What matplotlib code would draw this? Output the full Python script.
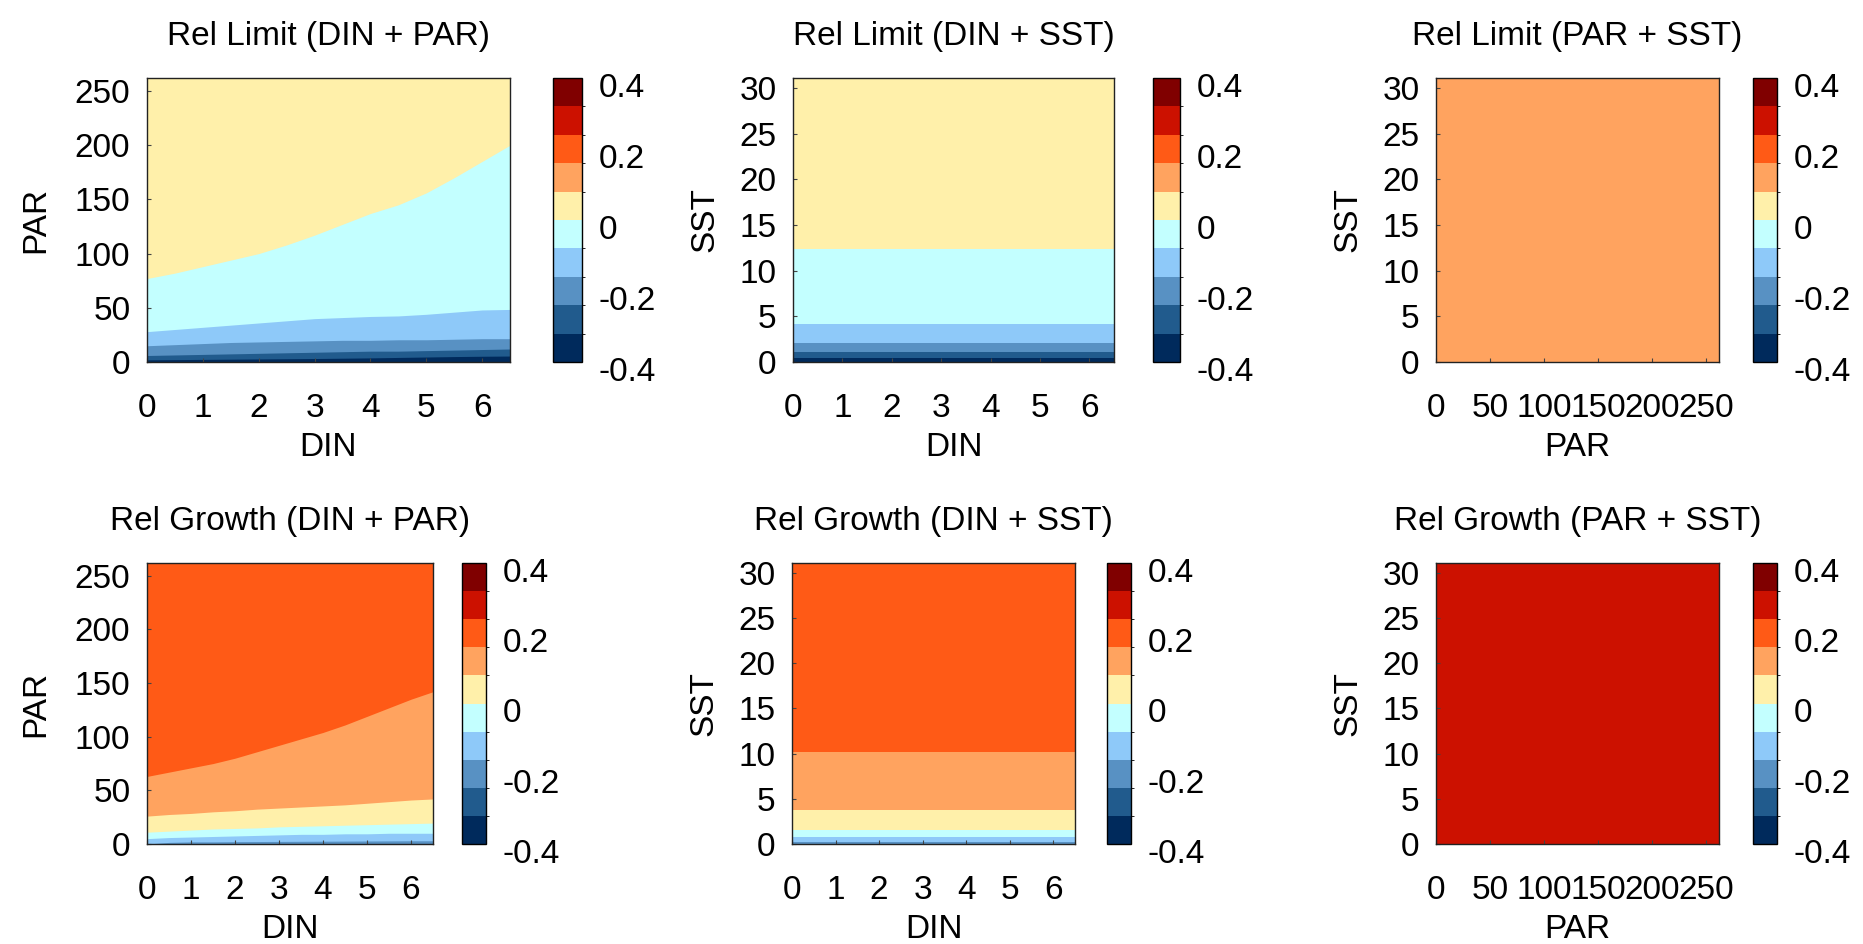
import numpy as np
import matplotlib
matplotlib.use("Agg")
import matplotlib.pyplot as plt
import matplotlib.transforms as mtransforms
from matplotlib.colors import ListedColormap, BoundaryNorm
from matplotlib.colorbar import ColorbarBase

plt.rcParams['font.family'] = ['Liberation Sans', 'DejaVu Sans']

# ---------------- DATA ----------------
levels = [-0.4, -0.32, -0.24, -0.16, -0.08, 0.0, 0.08, 0.16, 0.24, 0.32, 0.4]
band_colors = ["#002a5c", "#215b8d", "#5891c3", "#8ec9f9", "#c3ffff",
               "#fff0aa", "#ffa35f", "#ff5a16", "#cc1100", "#800000"]
cbar_ticks = [-0.4, -0.2, 0, 0.2, 0.4]
cbar_labels = ["-0.4", "-0.2", "0", "0.2", "0.4"]

din_range = [0, 6.5]
par_range = [0, 262]
sst_range = [0, 31.1]

din = [0, 0.5, 1, 1.5, 2, 2.5, 3, 3.5, 4, 4.5, 5, 5.5, 6, 6.5]

# Rel Limit (DIN + PAR): PAR at each band boundary, bottom to top
lim_dp_bounds = [
    [2, 2.2, 2.4, 2.6, 2.8, 3, 3.2, 3.5, 3.8, 4.2, 4.6, 5, 5.3, 5.5],
    [6, 6.5, 7, 7.5, 8, 8.5, 9, 9.5, 10, 10, 10.5, 11, 11.5, 12],
    [15, 16, 17, 18, 18.5, 19, 19.5, 20, 20, 20.5, 20.5, 21, 21.5, 21.5],
    [28, 30, 32, 34, 36, 38, 40, 41, 42, 42.5, 44, 46, 48, 48.5],
    [77, 82, 88, 94, 100, 108, 117, 127, 137, 145, 156, 170, 185, 200],
]
lim_dp_vals = [-0.36, -0.28, -0.2, -0.12, -0.04, 0.04]

# Rel Growth (DIN + PAR)
gro_dp_bounds = [
    [0, 1.5, 2, 2, 2.2, 2.3, 2.4, 2.5, 2.6, 2.7, 2.8, 2.9, 3, 3],
    [5, 6, 6.5, 7, 7.5, 8, 8.5, 9, 9, 9.5, 9.5, 10, 10, 10],
    [11, 12, 13, 14, 14.5, 15, 16, 16.5, 17, 17.5, 18, 18.5, 19, 19.5],
    [26, 27.5, 28.5, 30, 31, 32.5, 33.5, 34.5, 35.5, 36.5, 38, 39.5, 41, 42],
    [63, 67, 71, 75, 80, 86, 92, 98, 104, 111, 119, 127, 135, 142],
]
gro_dp_vals = [-0.2, -0.12, -0.04, 0.04, 0.12, 0.2]

# DIN + SST: SST band edges (constant along DIN)
lim_ds_edges = [0, 0.44, 1.06, 2.1, 4.2, 12.33, 31.1]
lim_ds_vals = [-0.36, -0.28, -0.2, -0.12, -0.04, 0.04]
gro_ds_edges = [0, 0.25, 0.8, 1.6, 3.75, 10.15, 31.1]
gro_ds_vals = [-0.2, -0.12, -0.04, 0.04, 0.12, 0.2]

# PAR + SST: uniform values
lim_ps_val = 0.12
gro_ps_val = 0.28

# ---------------- PLOT ----------------
W, H = 1863, 944
FS = 24
fig = plt.figure(figsize=(W / 100, H / 100), dpi=100)

cmap = ListedColormap(band_colors)
norm = BoundaryNorm(levels, cmap.N)


def px_axes(x0, x1, y0, y1):
    return fig.add_axes([x0 / W, 1 - y1 / H, (x1 - x0) / W, (y1 - y0) / H])


def style(ax, title, xlabel, ylabel, ylab_px, xlim, ylim, xticks, yticks):
    ax.set_xlim(xlim)
    ax.set_ylim(ylim)
    ax.set_xticks(xticks)
    ax.set_yticks(yticks)
    ax.set_title(title, fontsize=FS, pad=24)
    ax.set_xlabel(xlabel, fontsize=FS)
    ax.set_ylabel(ylabel, fontsize=FS)
    ax.tick_params(direction="in", length=3, width=0.8, labelsize=FS, color="#444444")
    ax.tick_params(axis="x", pad=22)
    ax.tick_params(axis="y", pad=12)
    pos = ax.get_position()
    ax.xaxis.set_label_coords(0.5, -70 / (pos.height * H))
    ax.yaxis.set_label_coords(-ylab_px / (pos.width * W), 0.5)
    for s in ax.spines.values():
        s.set_linewidth(1.0)
        s.set_color("#222222")


def add_cbar(x0, x1, y0, y1):
    cax = px_axes(x0, x1, y0, y1)
    cb = ColorbarBase(cax, cmap=cmap, norm=norm, boundaries=levels,
                      ticks=cbar_ticks, spacing="uniform")
    cb.set_ticklabels(cbar_labels)
    cb.outline.set_linewidth(1.0)
    cax.tick_params(length=0, pad=12, labelsize=FS)
    # labels sit a little below their ticks in the original
    shift = mtransforms.ScaledTranslation(0, -0.07, fig.dpi_scale_trans)
    for lbl in cax.get_yticklabels():
        lbl.set_transform(lbl.get_transform() + shift)
    return cb


def draw_bounds(ax, bounds, vals, top):
    # paint from top band down so the bands tile without seams
    uppers = bounds + [[top] * len(din)]
    for upper, v in reversed(list(zip(uppers, vals))):
        ax.fill_between(din, 0, upper, color=cmap(norm(v)), linewidth=0)


def draw_flat(ax, x_edges, y_edges, vals):
    c = np.array(vals, dtype=float).reshape(len(y_edges) - 1, len(x_edges) - 1)
    ax.pcolormesh(x_edges, y_edges, c, cmap=cmap, norm=norm, shading="flat")


top_y = (78, 362)
bot_y = (563, 844)
din_ticks = [0, 1, 2, 3, 4, 5, 6]
par_ticks = [0, 50, 100, 150, 200, 250]
sst_ticks = [0, 5, 10, 15, 20, 25, 30]

# Rel Limit (DIN + PAR)
ax = px_axes(147, 510, *top_y)
draw_bounds(ax, lim_dp_bounds, lim_dp_vals, par_range[1])
style(ax, "Rel Limit (DIN + PAR)", "DIN", "PAR", 96,
      din_range, par_range, din_ticks, par_ticks)
add_cbar(553, 582, *top_y)

# Rel Limit (DIN + SST)
ax = px_axes(793, 1114, *top_y)
draw_flat(ax, din_range, lim_ds_edges, lim_ds_vals)
style(ax, "Rel Limit (DIN + SST)", "DIN", "SST", 73,
      din_range, sst_range, din_ticks, sst_ticks)
add_cbar(1153, 1180, *top_y)

# Rel Limit (PAR + SST)
ax = px_axes(1436, 1719, *top_y)
draw_flat(ax, par_range, sst_range, [lim_ps_val])
style(ax, "Rel Limit (PAR + SST)", "PAR", "SST", 73,
      par_range, sst_range, par_ticks, sst_ticks)
add_cbar(1753, 1777, *top_y)

# Rel Growth (DIN + PAR)
ax = px_axes(147, 433, *bot_y)
draw_bounds(ax, gro_dp_bounds, gro_dp_vals, par_range[1])
style(ax, "Rel Growth (DIN + PAR)", "DIN", "PAR", 96,
      din_range, par_range, din_ticks, par_ticks)
add_cbar(462, 486, *bot_y)

# Rel Growth (DIN + SST)
ax = px_axes(792, 1075, *bot_y)
draw_flat(ax, din_range, gro_ds_edges, gro_ds_vals)
style(ax, "Rel Growth (DIN + SST)", "DIN", "SST", 73,
      din_range, sst_range, din_ticks, sst_ticks)
add_cbar(1107, 1131, *bot_y)

# Rel Growth (PAR + SST)
ax = px_axes(1436, 1719, *bot_y)
draw_flat(ax, par_range, sst_range, [gro_ps_val])
style(ax, "Rel Growth (PAR + SST)", "PAR", "SST", 73,
      par_range, sst_range, par_ticks, sst_ticks)
add_cbar(1753, 1777, *bot_y)

fig.savefig("out.png", dpi=100)
plt.close(fig)
